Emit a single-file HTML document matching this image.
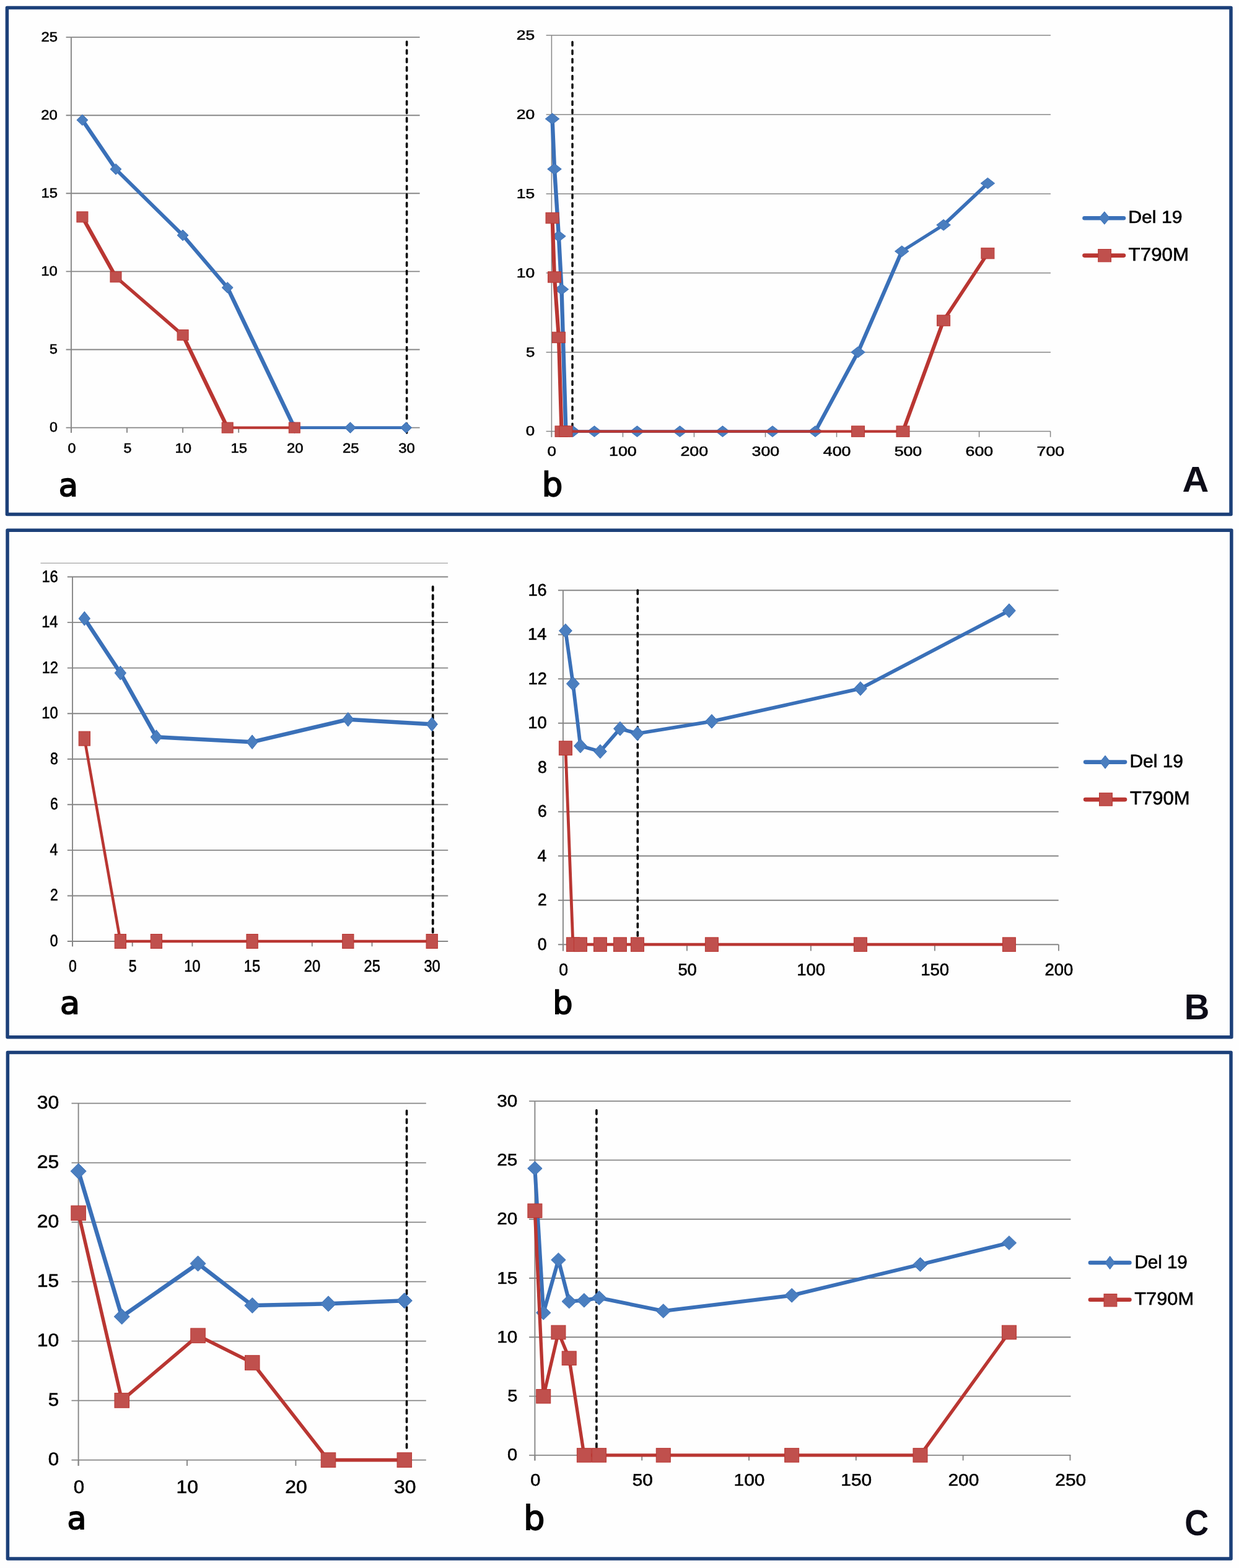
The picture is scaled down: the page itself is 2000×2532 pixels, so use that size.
<!DOCTYPE html><html><head><meta charset="utf-8"><title>Del 19 / T790M</title><style>html,body{margin:0;padding:0;background:#fefefe}svg{display:block}text{font-family:"Liberation Sans",Arial,sans-serif;font-kerning:none;text-rendering:geometricPrecision}</style></head><body>
<svg width="2000" height="2532" viewBox="0 0 2000 2532">
<rect width="2000" height="2532" fill="#fefefe"/>
<line x1="65.5" y1="909.3" x2="723" y2="909.3" stroke="#a6a6a6" stroke-width="1.2"/>
<g id="Aa">
<line x1="106.60" y1="690.60" x2="677.60" y2="690.60" stroke="#868686" stroke-width="1.9"/>
<line x1="106.60" y1="564.50" x2="677.60" y2="564.50" stroke="#868686" stroke-width="1.9"/>
<line x1="106.60" y1="438.40" x2="677.60" y2="438.40" stroke="#868686" stroke-width="1.9"/>
<line x1="106.60" y1="312.30" x2="677.60" y2="312.30" stroke="#868686" stroke-width="1.9"/>
<line x1="106.60" y1="186.20" x2="677.60" y2="186.20" stroke="#868686" stroke-width="1.9"/>
<line x1="106.60" y1="60.10" x2="677.60" y2="60.10" stroke="#868686" stroke-width="1.9"/>
<line x1="114.90" y1="60.10" x2="114.90" y2="698.80" stroke="#868686" stroke-width="1.9"/>
<line x1="114.90" y1="690.60" x2="114.90" y2="698.80" stroke="#868686" stroke-width="1.9"/>
<line x1="205.00" y1="690.60" x2="205.00" y2="698.80" stroke="#868686" stroke-width="1.9"/>
<line x1="295.10" y1="690.60" x2="295.10" y2="698.80" stroke="#868686" stroke-width="1.9"/>
<line x1="385.20" y1="690.60" x2="385.20" y2="698.80" stroke="#868686" stroke-width="1.9"/>
<line x1="475.30" y1="690.60" x2="475.30" y2="698.80" stroke="#868686" stroke-width="1.9"/>
<line x1="565.40" y1="690.60" x2="565.40" y2="698.80" stroke="#868686" stroke-width="1.9"/>
<line x1="655.50" y1="690.60" x2="655.50" y2="698.80" stroke="#868686" stroke-width="1.9"/>
<line x1="656.60" y1="67.30" x2="656.60" y2="699.00" stroke="#000" stroke-width="3.6" stroke-linecap="round" stroke-dasharray="5.8 7.9"/>
<g transform="scale(1.5,1)"><polyline points="88.613,193.77 124.653,273.21 196.733,379.89 244.787,464.38 316.867,690.60 376.933,690.60 437.000,690.60" fill="none" stroke="#3A70B8" stroke-width="4.6" stroke-linejoin="round"/></g>
<path d="M132.92,185.02L141.92,193.77L132.92,202.52L123.92,193.77Z" fill="#4A7EBF" stroke="#3A70B8" stroke-width="1.0"/>
<path d="M186.98,264.46L195.98,273.21L186.98,281.96L177.98,273.21Z" fill="#4A7EBF" stroke="#3A70B8" stroke-width="1.0"/>
<path d="M295.10,371.14L304.10,379.89L295.10,388.64L286.10,379.89Z" fill="#4A7EBF" stroke="#3A70B8" stroke-width="1.0"/>
<path d="M367.18,455.63L376.18,464.38L367.18,473.13L358.18,464.38Z" fill="#4A7EBF" stroke="#3A70B8" stroke-width="1.0"/>
<path d="M475.30,681.85L484.30,690.60L475.30,699.35L466.30,690.60Z" fill="#4A7EBF" stroke="#3A70B8" stroke-width="1.0"/>
<path d="M565.40,681.85L574.40,690.60L565.40,699.35L556.40,690.60Z" fill="#4A7EBF" stroke="#3A70B8" stroke-width="1.0"/>
<path d="M655.50,681.85L664.50,690.60L655.50,699.35L646.50,690.60Z" fill="#4A7EBF" stroke="#3A70B8" stroke-width="1.0"/>
<g transform="scale(1.5,1)"><polyline points="88.613,350.38 124.653,447.23 196.733,541.05 244.787,690.60 316.867,690.60" fill="none" stroke="#B93632" stroke-width="4.4" stroke-linejoin="round"/></g>
<rect x="123.92" y="341.88" width="18.00" height="17.00" fill="#C0504D" stroke="#B93632" stroke-width="1.0"/>
<rect x="177.98" y="438.73" width="18.00" height="17.00" fill="#C0504D" stroke="#B93632" stroke-width="1.0"/>
<rect x="286.10" y="532.55" width="18.00" height="17.00" fill="#C0504D" stroke="#B93632" stroke-width="1.0"/>
<rect x="358.18" y="682.10" width="18.00" height="17.00" fill="#C0504D" stroke="#B93632" stroke-width="1.0"/>
<rect x="466.30" y="682.10" width="18.00" height="17.00" fill="#C0504D" stroke="#B93632" stroke-width="1.0"/>
<text transform="translate(79.93,697.12) scale(0.23145,0.21853)" font-size="100" font-weight="normal" stroke="#000" stroke-width="2.67">0</text>
<text transform="translate(80.01,571.02) scale(0.23135,0.21853)" font-size="100" font-weight="normal" stroke="#000" stroke-width="2.67">5</text>
<text transform="translate(66.36,444.92) scale(0.23798,0.21853)" font-size="100" font-weight="normal" stroke="#000" stroke-width="2.63">10</text>
<text transform="translate(66.43,318.82) scale(0.23796,0.21853)" font-size="100" font-weight="normal" stroke="#000" stroke-width="2.63">15</text>
<text transform="translate(66.34,192.72) scale(0.23813,0.21853)" font-size="100" font-weight="normal" stroke="#000" stroke-width="2.63">20</text>
<text transform="translate(66.41,66.62) scale(0.23812,0.21853)" font-size="100" font-weight="normal" stroke="#000" stroke-width="2.63">25</text>
<text transform="translate(109.46,730.92) scale(0.23145,0.21853)" font-size="100" font-weight="normal" stroke="#000" stroke-width="2.67">0</text>
<text transform="translate(199.59,730.92) scale(0.23135,0.21853)" font-size="100" font-weight="normal" stroke="#000" stroke-width="2.67">5</text>
<text transform="translate(282.42,730.92) scale(0.23798,0.21853)" font-size="100" font-weight="normal" stroke="#000" stroke-width="2.63">10</text>
<text transform="translate(372.56,730.92) scale(0.23796,0.21853)" font-size="100" font-weight="normal" stroke="#000" stroke-width="2.63">15</text>
<text transform="translate(462.92,730.92) scale(0.23813,0.21853)" font-size="100" font-weight="normal" stroke="#000" stroke-width="2.63">20</text>
<text transform="translate(553.06,730.92) scale(0.23812,0.21853)" font-size="100" font-weight="normal" stroke="#000" stroke-width="2.63">25</text>
<text transform="translate(643.26,730.92) scale(0.23820,0.21853)" font-size="100" font-weight="normal" stroke="#000" stroke-width="2.63">30</text>
</g>
<g id="Ab">
<line x1="881.60" y1="696.60" x2="1695.90" y2="696.60" stroke="#868686" stroke-width="1.5"/>
<line x1="881.60" y1="568.70" x2="1695.90" y2="568.70" stroke="#868686" stroke-width="1.5"/>
<line x1="881.60" y1="440.80" x2="1695.90" y2="440.80" stroke="#868686" stroke-width="1.5"/>
<line x1="881.60" y1="312.90" x2="1695.90" y2="312.90" stroke="#868686" stroke-width="1.5"/>
<line x1="881.60" y1="185.00" x2="1695.90" y2="185.00" stroke="#868686" stroke-width="1.5"/>
<line x1="881.60" y1="57.10" x2="1695.90" y2="57.10" stroke="#868686" stroke-width="1.5"/>
<line x1="890.40" y1="57.10" x2="890.40" y2="705.80" stroke="#868686" stroke-width="1.5"/>
<line x1="890.40" y1="696.60" x2="890.40" y2="705.80" stroke="#868686" stroke-width="1.5"/>
<line x1="1005.43" y1="696.60" x2="1005.43" y2="705.80" stroke="#868686" stroke-width="1.5"/>
<line x1="1120.46" y1="696.60" x2="1120.46" y2="705.80" stroke="#868686" stroke-width="1.5"/>
<line x1="1235.49" y1="696.60" x2="1235.49" y2="705.80" stroke="#868686" stroke-width="1.5"/>
<line x1="1350.52" y1="696.60" x2="1350.52" y2="705.80" stroke="#868686" stroke-width="1.5"/>
<line x1="1465.55" y1="696.60" x2="1465.55" y2="705.80" stroke="#868686" stroke-width="1.5"/>
<line x1="1580.58" y1="696.60" x2="1580.58" y2="705.80" stroke="#868686" stroke-width="1.5"/>
<line x1="1695.61" y1="696.60" x2="1695.61" y2="705.80" stroke="#868686" stroke-width="1.5"/>
<line x1="924.00" y1="67.70" x2="924.00" y2="697.00" stroke="#000" stroke-width="3.4" stroke-linecap="round" stroke-dasharray="5.8 7.9"/>
<g transform="scale(1.4,1)"><polyline points="636.822,191.91 639.287,273.00 644.216,381.45 647.503,467.15 652.433,696.60 656.541,696.60 660.649,696.60 685.299,696.60 734.597,696.60 783.896,696.60 833.194,696.60 890.709,696.60 940.008,696.60 989.306,568.70 1039.837,405.76 1087.904,363.29 1138.845,296.02" fill="none" stroke="#3A70B8" stroke-width="4.6" stroke-linejoin="round"/></g>
<path d="M891.55,183.06L902.80,191.91L891.55,200.76L880.30,191.91Z" fill="#4A7EBF" stroke="#3A70B8" stroke-width="1.0"/>
<path d="M895.00,264.15L906.25,273.00L895.00,281.85L883.75,273.00Z" fill="#4A7EBF" stroke="#3A70B8" stroke-width="1.0"/>
<path d="M901.90,372.60L913.15,381.45L901.90,390.30L890.65,381.45Z" fill="#4A7EBF" stroke="#3A70B8" stroke-width="1.0"/>
<path d="M906.50,458.30L917.75,467.15L906.50,476.00L895.25,467.15Z" fill="#4A7EBF" stroke="#3A70B8" stroke-width="1.0"/>
<path d="M913.41,687.75L924.66,696.60L913.41,705.45L902.16,696.60Z" fill="#4A7EBF" stroke="#3A70B8" stroke-width="1.0"/>
<path d="M919.16,687.75L930.41,696.60L919.16,705.45L907.91,696.60Z" fill="#4A7EBF" stroke="#3A70B8" stroke-width="1.0"/>
<path d="M924.91,687.75L936.16,696.60L924.91,705.45L913.66,696.60Z" fill="#4A7EBF" stroke="#3A70B8" stroke-width="1.0"/>
<path d="M959.42,687.75L970.67,696.60L959.42,705.45L948.17,696.60Z" fill="#4A7EBF" stroke="#3A70B8" stroke-width="1.0"/>
<path d="M1028.44,687.75L1039.69,696.60L1028.44,705.45L1017.19,696.60Z" fill="#4A7EBF" stroke="#3A70B8" stroke-width="1.0"/>
<path d="M1097.45,687.75L1108.70,696.60L1097.45,705.45L1086.20,696.60Z" fill="#4A7EBF" stroke="#3A70B8" stroke-width="1.0"/>
<path d="M1166.47,687.75L1177.72,696.60L1166.47,705.45L1155.22,696.60Z" fill="#4A7EBF" stroke="#3A70B8" stroke-width="1.0"/>
<path d="M1246.99,687.75L1258.24,696.60L1246.99,705.45L1235.74,696.60Z" fill="#4A7EBF" stroke="#3A70B8" stroke-width="1.0"/>
<path d="M1316.01,687.75L1327.26,696.60L1316.01,705.45L1304.76,696.60Z" fill="#4A7EBF" stroke="#3A70B8" stroke-width="1.0"/>
<path d="M1385.03,559.85L1396.28,568.70L1385.03,577.55L1373.78,568.70Z" fill="#4A7EBF" stroke="#3A70B8" stroke-width="1.0"/>
<path d="M1455.77,396.91L1467.02,405.76L1455.77,414.61L1444.52,405.76Z" fill="#4A7EBF" stroke="#3A70B8" stroke-width="1.0"/>
<path d="M1523.07,354.44L1534.32,363.29L1523.07,372.14L1511.82,363.29Z" fill="#4A7EBF" stroke="#3A70B8" stroke-width="1.0"/>
<path d="M1594.38,287.17L1605.63,296.02L1594.38,304.87L1583.13,296.02Z" fill="#4A7EBF" stroke="#3A70B8" stroke-width="1.0"/>
<g transform="scale(1.4,1)"><polyline points="636.822,352.04 639.287,447.45 644.216,544.91 647.503,696.60 652.433,696.60 989.306,696.60 1041.070,696.60 1087.904,517.54 1138.845,409.08" fill="none" stroke="#B93632" stroke-width="4.4" stroke-linejoin="round"/></g>
<rect x="881.05" y="343.34" width="21.00" height="17.40" fill="#C0504D" stroke="#B93632" stroke-width="1.0"/>
<rect x="884.50" y="438.75" width="21.00" height="17.40" fill="#C0504D" stroke="#B93632" stroke-width="1.0"/>
<rect x="891.40" y="536.21" width="21.00" height="17.40" fill="#C0504D" stroke="#B93632" stroke-width="1.0"/>
<rect x="896.00" y="687.90" width="21.00" height="17.40" fill="#C0504D" stroke="#B93632" stroke-width="1.0"/>
<rect x="902.91" y="687.90" width="21.00" height="17.40" fill="#C0504D" stroke="#B93632" stroke-width="1.0"/>
<rect x="1374.53" y="687.90" width="21.00" height="17.40" fill="#C0504D" stroke="#B93632" stroke-width="1.0"/>
<rect x="1447.00" y="687.90" width="21.00" height="17.40" fill="#C0504D" stroke="#B93632" stroke-width="1.0"/>
<rect x="1512.57" y="508.84" width="21.00" height="17.40" fill="#C0504D" stroke="#B93632" stroke-width="1.0"/>
<rect x="1583.88" y="400.38" width="21.00" height="17.40" fill="#C0504D" stroke="#B93632" stroke-width="1.0"/>
<text transform="translate(848.84,703.41) scale(0.25845,0.21553)" font-size="100" font-weight="normal" stroke="#000" stroke-width="2.53">0</text>
<text transform="translate(848.92,575.51) scale(0.25835,0.21553)" font-size="100" font-weight="normal" stroke="#000" stroke-width="2.53">5</text>
<text transform="translate(833.76,447.61) scale(0.26498,0.21553)" font-size="100" font-weight="normal" stroke="#000" stroke-width="2.50">10</text>
<text transform="translate(833.84,319.71) scale(0.26496,0.21553)" font-size="100" font-weight="normal" stroke="#000" stroke-width="2.50">15</text>
<text transform="translate(833.74,191.81) scale(0.26513,0.21553)" font-size="100" font-weight="normal" stroke="#000" stroke-width="2.50">20</text>
<text transform="translate(833.82,63.91) scale(0.26512,0.21553)" font-size="100" font-weight="normal" stroke="#000" stroke-width="2.50">25</text>
<text transform="translate(883.61,735.61) scale(0.25845,0.21553)" font-size="100" font-weight="normal" stroke="#000" stroke-width="2.53">0</text>
<text transform="translate(983.05,735.61) scale(0.26714,0.21553)" font-size="100" font-weight="normal" stroke="#000" stroke-width="2.49">100</text>
<text transform="translate(1098.42,735.61) scale(0.26720,0.21553)" font-size="100" font-weight="normal" stroke="#000" stroke-width="2.49">200</text>
<text transform="translate(1213.61,735.61) scale(0.26723,0.21553)" font-size="100" font-weight="normal" stroke="#000" stroke-width="2.49">300</text>
<text transform="translate(1328.84,735.61) scale(0.26727,0.21553)" font-size="100" font-weight="normal" stroke="#000" stroke-width="2.49">400</text>
<text transform="translate(1443.64,735.61) scale(0.26722,0.21553)" font-size="100" font-weight="normal" stroke="#000" stroke-width="2.49">500</text>
<text transform="translate(1558.53,735.61) scale(0.26720,0.21553)" font-size="100" font-weight="normal" stroke="#000" stroke-width="2.49">600</text>
<text transform="translate(1673.56,735.61) scale(0.26720,0.21553)" font-size="100" font-weight="normal" stroke="#000" stroke-width="2.49">700</text>
</g>
<g id="Ba">
<line x1="108.80" y1="1520.00" x2="723.20" y2="1520.00" stroke="#868686" stroke-width="1.9"/>
<line x1="108.80" y1="1446.44" x2="723.20" y2="1446.44" stroke="#868686" stroke-width="1.9"/>
<line x1="108.80" y1="1372.88" x2="723.20" y2="1372.88" stroke="#868686" stroke-width="1.9"/>
<line x1="108.80" y1="1299.32" x2="723.20" y2="1299.32" stroke="#868686" stroke-width="1.9"/>
<line x1="108.80" y1="1225.76" x2="723.20" y2="1225.76" stroke="#868686" stroke-width="1.9"/>
<line x1="108.80" y1="1152.20" x2="723.20" y2="1152.20" stroke="#868686" stroke-width="1.9"/>
<line x1="108.80" y1="1078.64" x2="723.20" y2="1078.64" stroke="#868686" stroke-width="1.9"/>
<line x1="108.80" y1="1005.08" x2="723.20" y2="1005.08" stroke="#868686" stroke-width="1.9"/>
<line x1="108.80" y1="931.52" x2="723.20" y2="931.52" stroke="#868686" stroke-width="1.9"/>
<line x1="117.00" y1="931.52" x2="117.00" y2="1528.30" stroke="#868686" stroke-width="1.9"/>
<line x1="117.00" y1="1520.00" x2="117.00" y2="1528.30" stroke="#868686" stroke-width="1.9"/>
<line x1="213.70" y1="1520.00" x2="213.70" y2="1528.30" stroke="#868686" stroke-width="1.9"/>
<line x1="310.40" y1="1520.00" x2="310.40" y2="1528.30" stroke="#868686" stroke-width="1.9"/>
<line x1="407.10" y1="1520.00" x2="407.10" y2="1528.30" stroke="#868686" stroke-width="1.9"/>
<line x1="503.80" y1="1520.00" x2="503.80" y2="1528.30" stroke="#868686" stroke-width="1.9"/>
<line x1="600.50" y1="1520.00" x2="600.50" y2="1528.30" stroke="#868686" stroke-width="1.9"/>
<line x1="697.20" y1="1520.00" x2="697.20" y2="1528.30" stroke="#868686" stroke-width="1.9"/>
<line x1="698.70" y1="947.40" x2="698.70" y2="1511.50" stroke="#000" stroke-width="3.8" stroke-linecap="round" stroke-dasharray="6.2 7.6"/>
<polyline points="136.34,998.83 194.36,1086.73 252.38,1190.08 407.10,1198.17 561.82,1161.76 697.20,1169.49" fill="none" stroke="#3A70B8" stroke-width="6.5" stroke-linejoin="round"/>
<path d="M136.34,987.48L145.49,998.83L136.34,1010.18L127.19,998.83Z" fill="#4A7EBF" stroke="#3A70B8" stroke-width="1.0"/>
<path d="M194.36,1075.38L203.51,1086.73L194.36,1098.08L185.21,1086.73Z" fill="#4A7EBF" stroke="#3A70B8" stroke-width="1.0"/>
<path d="M252.38,1178.73L261.53,1190.08L252.38,1201.43L243.23,1190.08Z" fill="#4A7EBF" stroke="#3A70B8" stroke-width="1.0"/>
<path d="M407.10,1186.83L416.25,1198.17L407.10,1209.52L397.95,1198.17Z" fill="#4A7EBF" stroke="#3A70B8" stroke-width="1.0"/>
<path d="M561.82,1150.41L570.97,1161.76L561.82,1173.11L552.67,1161.76Z" fill="#4A7EBF" stroke="#3A70B8" stroke-width="1.0"/>
<path d="M697.20,1158.14L706.35,1169.49L697.20,1180.84L688.05,1169.49Z" fill="#4A7EBF" stroke="#3A70B8" stroke-width="1.0"/>
<polyline points="136.34,1192.66 194.36,1520.00 252.38,1520.00 407.10,1520.00 561.82,1520.00 697.20,1520.00" fill="none" stroke="#B93632" stroke-width="4.5" stroke-linejoin="round"/>
<rect x="127.19" y="1181.16" width="18.30" height="23.00" fill="#C0504D" stroke="#B93632" stroke-width="1.0"/>
<rect x="185.21" y="1508.50" width="18.30" height="23.00" fill="#C0504D" stroke="#B93632" stroke-width="1.0"/>
<rect x="243.23" y="1508.50" width="18.30" height="23.00" fill="#C0504D" stroke="#B93632" stroke-width="1.0"/>
<rect x="397.95" y="1508.50" width="18.30" height="23.00" fill="#C0504D" stroke="#B93632" stroke-width="1.0"/>
<rect x="552.67" y="1508.50" width="18.30" height="23.00" fill="#C0504D" stroke="#B93632" stroke-width="1.0"/>
<rect x="688.05" y="1508.50" width="18.30" height="23.00" fill="#C0504D" stroke="#B93632" stroke-width="1.0"/>
<text transform="translate(80.84,1528.00) scale(0.22945,0.26753)" font-size="100" font-weight="normal" stroke="#000" stroke-width="2.41">0</text>
<text transform="translate(81.12,1454.44) scale(0.22883,0.26753)" font-size="100" font-weight="normal" stroke="#000" stroke-width="2.42">2</text>
<text transform="translate(80.58,1380.88) scale(0.23009,0.26753)" font-size="100" font-weight="normal" stroke="#000" stroke-width="2.41">4</text>
<text transform="translate(80.97,1307.32) scale(0.22900,0.26753)" font-size="100" font-weight="normal" stroke="#000" stroke-width="2.42">6</text>
<text transform="translate(80.95,1233.76) scale(0.22921,0.26753)" font-size="100" font-weight="normal" stroke="#000" stroke-width="2.42">8</text>
<text transform="translate(67.37,1160.20) scale(0.23598,0.26753)" font-size="100" font-weight="normal" stroke="#000" stroke-width="2.38">10</text>
<text transform="translate(67.65,1086.64) scale(0.23591,0.26753)" font-size="100" font-weight="normal" stroke="#000" stroke-width="2.38">12</text>
<text transform="translate(67.14,1013.08) scale(0.23604,0.26753)" font-size="100" font-weight="normal" stroke="#000" stroke-width="2.38">14</text>
<text transform="translate(67.49,939.52) scale(0.23595,0.26753)" font-size="100" font-weight="normal" stroke="#000" stroke-width="2.38">16</text>
<text transform="translate(110.92,1569.20) scale(0.22945,0.26753)" font-size="100" font-weight="normal" stroke="#000" stroke-width="2.41">0</text>
<text transform="translate(207.64,1569.20) scale(0.22935,0.26753)" font-size="100" font-weight="normal" stroke="#000" stroke-width="2.42">5</text>
<text transform="translate(297.14,1569.20) scale(0.23598,0.26753)" font-size="100" font-weight="normal" stroke="#000" stroke-width="2.38">10</text>
<text transform="translate(393.87,1569.20) scale(0.23596,0.26753)" font-size="100" font-weight="normal" stroke="#000" stroke-width="2.38">15</text>
<text transform="translate(490.83,1569.20) scale(0.23613,0.26753)" font-size="100" font-weight="normal" stroke="#000" stroke-width="2.38">20</text>
<text transform="translate(587.57,1569.20) scale(0.23612,0.26753)" font-size="100" font-weight="normal" stroke="#000" stroke-width="2.38">25</text>
<text transform="translate(684.38,1569.20) scale(0.23620,0.26753)" font-size="100" font-weight="normal" stroke="#000" stroke-width="2.38">30</text>
</g>
<g id="Bb">
<line x1="900.90" y1="1525.20" x2="1708.70" y2="1525.20" stroke="#868686" stroke-width="1.9"/>
<line x1="900.90" y1="1453.70" x2="1708.70" y2="1453.70" stroke="#868686" stroke-width="1.9"/>
<line x1="900.90" y1="1382.20" x2="1708.70" y2="1382.20" stroke="#868686" stroke-width="1.9"/>
<line x1="900.90" y1="1310.70" x2="1708.70" y2="1310.70" stroke="#868686" stroke-width="1.9"/>
<line x1="900.90" y1="1239.20" x2="1708.70" y2="1239.20" stroke="#868686" stroke-width="1.9"/>
<line x1="900.90" y1="1167.70" x2="1708.70" y2="1167.70" stroke="#868686" stroke-width="1.9"/>
<line x1="900.90" y1="1096.20" x2="1708.70" y2="1096.20" stroke="#868686" stroke-width="1.9"/>
<line x1="900.90" y1="1024.70" x2="1708.70" y2="1024.70" stroke="#868686" stroke-width="1.9"/>
<line x1="900.90" y1="953.20" x2="1708.70" y2="953.20" stroke="#868686" stroke-width="1.9"/>
<line x1="908.90" y1="953.20" x2="908.90" y2="1535.50" stroke="#868686" stroke-width="1.9"/>
<line x1="908.90" y1="1525.20" x2="908.90" y2="1535.50" stroke="#868686" stroke-width="1.9"/>
<line x1="1108.90" y1="1525.20" x2="1108.90" y2="1535.50" stroke="#868686" stroke-width="1.9"/>
<line x1="1308.90" y1="1525.20" x2="1308.90" y2="1535.50" stroke="#868686" stroke-width="1.9"/>
<line x1="1508.90" y1="1525.20" x2="1508.90" y2="1535.50" stroke="#868686" stroke-width="1.9"/>
<line x1="1708.90" y1="1525.20" x2="1708.90" y2="1535.50" stroke="#868686" stroke-width="1.9"/>
<line x1="1029.30" y1="953.10" x2="1029.30" y2="1516.40" stroke="#000" stroke-width="3.6" stroke-linecap="round" stroke-dasharray="6.2 7.6"/>
<polyline points="912.90,1018.62 924.90,1104.07 936.90,1204.52 968.90,1213.46 1000.90,1176.64 1028.90,1184.50 1148.90,1164.84 1388.90,1111.93 1628.90,986.09" fill="none" stroke="#3A70B8" stroke-width="5.8" stroke-linejoin="round"/>
<path d="M912.90,1007.32L923.30,1018.62L912.90,1029.92L902.50,1018.62Z" fill="#4A7EBF" stroke="#3A70B8" stroke-width="1.0"/>
<path d="M924.90,1092.77L935.30,1104.07L924.90,1115.37L914.50,1104.07Z" fill="#4A7EBF" stroke="#3A70B8" stroke-width="1.0"/>
<path d="M936.90,1193.22L947.30,1204.52L936.90,1215.82L926.50,1204.52Z" fill="#4A7EBF" stroke="#3A70B8" stroke-width="1.0"/>
<path d="M968.90,1202.16L979.30,1213.46L968.90,1224.76L958.50,1213.46Z" fill="#4A7EBF" stroke="#3A70B8" stroke-width="1.0"/>
<path d="M1000.90,1165.34L1011.30,1176.64L1000.90,1187.94L990.50,1176.64Z" fill="#4A7EBF" stroke="#3A70B8" stroke-width="1.0"/>
<path d="M1028.90,1173.20L1039.30,1184.50L1028.90,1195.80L1018.50,1184.50Z" fill="#4A7EBF" stroke="#3A70B8" stroke-width="1.0"/>
<path d="M1148.90,1153.54L1159.30,1164.84L1148.90,1176.14L1138.50,1164.84Z" fill="#4A7EBF" stroke="#3A70B8" stroke-width="1.0"/>
<path d="M1388.90,1100.63L1399.30,1111.93L1388.90,1123.23L1378.50,1111.93Z" fill="#4A7EBF" stroke="#3A70B8" stroke-width="1.0"/>
<path d="M1628.90,974.79L1639.30,986.09L1628.90,997.39L1618.50,986.09Z" fill="#4A7EBF" stroke="#3A70B8" stroke-width="1.0"/>
<polyline points="912.90,1208.10 924.90,1525.20 936.90,1525.20 968.90,1525.20 1000.90,1525.20 1028.90,1525.20 1148.90,1525.20 1388.90,1525.20 1628.90,1525.20" fill="none" stroke="#B93632" stroke-width="4.8" stroke-linejoin="round"/>
<rect x="902.40" y="1196.75" width="21.00" height="22.70" fill="#C0504D" stroke="#B93632" stroke-width="1.0"/>
<rect x="914.40" y="1513.85" width="21.00" height="22.70" fill="#C0504D" stroke="#B93632" stroke-width="1.0"/>
<rect x="926.40" y="1513.85" width="21.00" height="22.70" fill="#C0504D" stroke="#B93632" stroke-width="1.0"/>
<rect x="958.40" y="1513.85" width="21.00" height="22.70" fill="#C0504D" stroke="#B93632" stroke-width="1.0"/>
<rect x="990.40" y="1513.85" width="21.00" height="22.70" fill="#C0504D" stroke="#B93632" stroke-width="1.0"/>
<rect x="1018.40" y="1513.85" width="21.00" height="22.70" fill="#C0504D" stroke="#B93632" stroke-width="1.0"/>
<rect x="1138.40" y="1513.85" width="21.00" height="22.70" fill="#C0504D" stroke="#B93632" stroke-width="1.0"/>
<rect x="1378.40" y="1513.85" width="21.00" height="22.70" fill="#C0504D" stroke="#B93632" stroke-width="1.0"/>
<rect x="1618.40" y="1513.85" width="21.00" height="22.70" fill="#C0504D" stroke="#B93632" stroke-width="1.0"/>
<text transform="translate(867.77,1533.81) scale(0.26545,0.27353)" font-size="100" font-weight="normal" stroke="#000" stroke-width="2.23">0</text>
<text transform="translate(868.10,1462.31) scale(0.26483,0.27353)" font-size="100" font-weight="normal" stroke="#000" stroke-width="2.23">2</text>
<text transform="translate(867.48,1390.81) scale(0.26609,0.27353)" font-size="100" font-weight="normal" stroke="#000" stroke-width="2.22">4</text>
<text transform="translate(867.93,1319.31) scale(0.26500,0.27353)" font-size="100" font-weight="normal" stroke="#000" stroke-width="2.23">6</text>
<text transform="translate(867.90,1247.81) scale(0.26521,0.27353)" font-size="100" font-weight="normal" stroke="#000" stroke-width="2.23">8</text>
<text transform="translate(852.31,1176.31) scale(0.27198,0.27353)" font-size="100" font-weight="normal" stroke="#000" stroke-width="2.20">10</text>
<text transform="translate(852.62,1104.81) scale(0.27191,0.27353)" font-size="100" font-weight="normal" stroke="#000" stroke-width="2.20">12</text>
<text transform="translate(852.04,1033.31) scale(0.27204,0.27353)" font-size="100" font-weight="normal" stroke="#000" stroke-width="2.20">14</text>
<text transform="translate(852.45,961.81) scale(0.27195,0.27353)" font-size="100" font-weight="normal" stroke="#000" stroke-width="2.20">16</text>
<text transform="translate(902.22,1575.01) scale(0.26545,0.27353)" font-size="100" font-weight="normal" stroke="#000" stroke-width="2.23">0</text>
<text transform="translate(1094.45,1575.01) scale(0.27219,0.27353)" font-size="100" font-weight="normal" stroke="#000" stroke-width="2.20">50</text>
<text transform="translate(1286.22,1575.01) scale(0.27414,0.27353)" font-size="100" font-weight="normal" stroke="#000" stroke-width="2.19">100</text>
<text transform="translate(1486.22,1575.01) scale(0.27414,0.27353)" font-size="100" font-weight="normal" stroke="#000" stroke-width="2.19">150</text>
<text transform="translate(1686.57,1575.01) scale(0.27420,0.27353)" font-size="100" font-weight="normal" stroke="#000" stroke-width="2.19">200</text>
</g>
<g id="Ca">
<line x1="115.50" y1="2357.60" x2="687.80" y2="2357.60" stroke="#868686" stroke-width="1.9"/>
<line x1="115.50" y1="2261.60" x2="687.80" y2="2261.60" stroke="#868686" stroke-width="1.9"/>
<line x1="115.50" y1="2165.60" x2="687.80" y2="2165.60" stroke="#868686" stroke-width="1.9"/>
<line x1="115.50" y1="2069.60" x2="687.80" y2="2069.60" stroke="#868686" stroke-width="1.9"/>
<line x1="115.50" y1="1973.60" x2="687.80" y2="1973.60" stroke="#868686" stroke-width="1.9"/>
<line x1="115.50" y1="1877.60" x2="687.80" y2="1877.60" stroke="#868686" stroke-width="1.9"/>
<line x1="115.50" y1="1781.60" x2="687.80" y2="1781.60" stroke="#868686" stroke-width="1.9"/>
<line x1="126.60" y1="1781.60" x2="126.60" y2="2367.00" stroke="#868686" stroke-width="1.9"/>
<line x1="126.60" y1="2357.60" x2="126.60" y2="2367.00" stroke="#868686" stroke-width="1.9"/>
<line x1="302.00" y1="2357.60" x2="302.00" y2="2367.00" stroke="#868686" stroke-width="1.9"/>
<line x1="477.40" y1="2357.60" x2="477.40" y2="2367.00" stroke="#868686" stroke-width="1.9"/>
<line x1="652.80" y1="2357.60" x2="652.80" y2="2367.00" stroke="#868686" stroke-width="1.9"/>
<line x1="656.50" y1="1793.50" x2="656.50" y2="2340.20" stroke="#000" stroke-width="3.6" stroke-linecap="round" stroke-dasharray="6.2 7.6"/>
<polyline points="126.60,1891.23 196.76,2126.05 319.54,2040.42 407.24,2108.00 530.02,2105.31 652.80,2100.32" fill="none" stroke="#3A70B8" stroke-width="6.6" stroke-linejoin="round"/>
<path d="M126.60,1878.73L139.10,1891.23L126.60,1903.73L114.10,1891.23Z" fill="#4A7EBF" stroke="#3A70B8" stroke-width="1.0"/>
<path d="M196.76,2113.55L209.26,2126.05L196.76,2138.55L184.26,2126.05Z" fill="#4A7EBF" stroke="#3A70B8" stroke-width="1.0"/>
<path d="M319.54,2027.92L332.04,2040.42L319.54,2052.92L307.04,2040.42Z" fill="#4A7EBF" stroke="#3A70B8" stroke-width="1.0"/>
<path d="M407.24,2095.50L419.74,2108.00L407.24,2120.50L394.74,2108.00Z" fill="#4A7EBF" stroke="#3A70B8" stroke-width="1.0"/>
<path d="M530.02,2092.81L542.52,2105.31L530.02,2117.81L517.52,2105.31Z" fill="#4A7EBF" stroke="#3A70B8" stroke-width="1.0"/>
<path d="M652.80,2087.82L665.30,2100.32L652.80,2112.82L640.30,2100.32Z" fill="#4A7EBF" stroke="#3A70B8" stroke-width="1.0"/>
<polyline points="126.60,1958.82 196.76,2261.41 319.54,2156.77 407.24,2200.54 530.02,2357.60 652.80,2357.60" fill="none" stroke="#B93632" stroke-width="5.6" stroke-linejoin="round"/>
<rect x="114.85" y="1947.02" width="23.50" height="23.60" fill="#C0504D" stroke="#B93632" stroke-width="1.0"/>
<rect x="185.01" y="2249.61" width="23.50" height="23.60" fill="#C0504D" stroke="#B93632" stroke-width="1.0"/>
<rect x="307.79" y="2144.97" width="23.50" height="23.60" fill="#C0504D" stroke="#B93632" stroke-width="1.0"/>
<rect x="395.49" y="2188.74" width="23.50" height="23.60" fill="#C0504D" stroke="#B93632" stroke-width="1.0"/>
<rect x="518.27" y="2345.80" width="23.50" height="23.60" fill="#C0504D" stroke="#B93632" stroke-width="1.0"/>
<rect x="641.05" y="2345.80" width="23.50" height="23.60" fill="#C0504D" stroke="#B93632" stroke-width="1.0"/>
<text transform="translate(77.74,2366.10) scale(0.31245,0.29353)" font-size="100" font-weight="normal" stroke="#000" stroke-width="1.98">0</text>
<text transform="translate(77.84,2270.10) scale(0.31235,0.29353)" font-size="100" font-weight="normal" stroke="#000" stroke-width="1.98">5</text>
<text transform="translate(59.67,2174.10) scale(0.31898,0.29353)" font-size="100" font-weight="normal" stroke="#000" stroke-width="1.96">10</text>
<text transform="translate(59.76,2078.10) scale(0.31896,0.29353)" font-size="100" font-weight="normal" stroke="#000" stroke-width="1.96">15</text>
<text transform="translate(59.65,1982.10) scale(0.31913,0.29353)" font-size="100" font-weight="normal" stroke="#000" stroke-width="1.96">20</text>
<text transform="translate(59.74,1886.10) scale(0.31912,0.29353)" font-size="100" font-weight="normal" stroke="#000" stroke-width="1.96">25</text>
<text transform="translate(59.64,1790.10) scale(0.31920,0.29353)" font-size="100" font-weight="normal" stroke="#000" stroke-width="1.96">30</text>
<text transform="translate(118.81,2410.90) scale(0.31245,0.29353)" font-size="100" font-weight="normal" stroke="#000" stroke-width="1.98">0</text>
<text transform="translate(284.57,2410.90) scale(0.31898,0.29353)" font-size="100" font-weight="normal" stroke="#000" stroke-width="1.96">10</text>
<text transform="translate(460.37,2410.90) scale(0.31913,0.29353)" font-size="100" font-weight="normal" stroke="#000" stroke-width="1.96">20</text>
<text transform="translate(635.96,2410.90) scale(0.31920,0.29353)" font-size="100" font-weight="normal" stroke="#000" stroke-width="1.96">30</text>
</g>
<g id="Cb">
<line x1="854.10" y1="2349.90" x2="1728.40" y2="2349.90" stroke="#868686" stroke-width="1.9"/>
<line x1="854.10" y1="2254.60" x2="1728.40" y2="2254.60" stroke="#868686" stroke-width="1.9"/>
<line x1="854.10" y1="2159.30" x2="1728.40" y2="2159.30" stroke="#868686" stroke-width="1.9"/>
<line x1="854.10" y1="2064.00" x2="1728.40" y2="2064.00" stroke="#868686" stroke-width="1.9"/>
<line x1="854.10" y1="1968.70" x2="1728.40" y2="1968.70" stroke="#868686" stroke-width="1.9"/>
<line x1="854.10" y1="1873.40" x2="1728.40" y2="1873.40" stroke="#868686" stroke-width="1.9"/>
<line x1="854.10" y1="1778.10" x2="1728.40" y2="1778.10" stroke="#868686" stroke-width="1.9"/>
<line x1="863.40" y1="1778.10" x2="863.40" y2="2358.40" stroke="#868686" stroke-width="1.9"/>
<line x1="863.40" y1="2349.90" x2="863.40" y2="2358.40" stroke="#868686" stroke-width="1.9"/>
<line x1="1036.20" y1="2349.90" x2="1036.20" y2="2358.40" stroke="#868686" stroke-width="1.9"/>
<line x1="1209.00" y1="2349.90" x2="1209.00" y2="2358.40" stroke="#868686" stroke-width="1.9"/>
<line x1="1381.80" y1="2349.90" x2="1381.80" y2="2358.40" stroke="#868686" stroke-width="1.9"/>
<line x1="1554.60" y1="2349.90" x2="1554.60" y2="2358.40" stroke="#868686" stroke-width="1.9"/>
<line x1="1727.40" y1="2349.90" x2="1727.40" y2="2358.40" stroke="#868686" stroke-width="1.9"/>
<line x1="962.90" y1="1792.90" x2="962.90" y2="2340.80" stroke="#000" stroke-width="3.6" stroke-linecap="round" stroke-dasharray="6.2 7.6"/>
<polyline points="863.40,1886.74 877.22,2119.85 901.42,2034.46 918.70,2101.55 942.89,2099.83 967.08,2095.83 1070.76,2116.99 1278.12,2091.83 1485.48,2041.89 1628.90,2007.01" fill="none" stroke="#3A70B8" stroke-width="6.1" stroke-linejoin="round"/>
<path d="M863.40,1875.44L875.10,1886.74L863.40,1898.04L851.70,1886.74Z" fill="#4A7EBF" stroke="#3A70B8" stroke-width="1.0"/>
<path d="M877.22,2108.55L888.92,2119.85L877.22,2131.15L865.52,2119.85Z" fill="#4A7EBF" stroke="#3A70B8" stroke-width="1.0"/>
<path d="M901.42,2023.16L913.12,2034.46L901.42,2045.76L889.72,2034.46Z" fill="#4A7EBF" stroke="#3A70B8" stroke-width="1.0"/>
<path d="M918.70,2090.25L930.40,2101.55L918.70,2112.85L907.00,2101.55Z" fill="#4A7EBF" stroke="#3A70B8" stroke-width="1.0"/>
<path d="M942.89,2088.53L954.59,2099.83L942.89,2111.13L931.19,2099.83Z" fill="#4A7EBF" stroke="#3A70B8" stroke-width="1.0"/>
<path d="M967.08,2084.53L978.78,2095.83L967.08,2107.13L955.38,2095.83Z" fill="#4A7EBF" stroke="#3A70B8" stroke-width="1.0"/>
<path d="M1070.76,2105.69L1082.46,2116.99L1070.76,2128.29L1059.06,2116.99Z" fill="#4A7EBF" stroke="#3A70B8" stroke-width="1.0"/>
<path d="M1278.12,2080.53L1289.82,2091.83L1278.12,2103.13L1266.42,2091.83Z" fill="#4A7EBF" stroke="#3A70B8" stroke-width="1.0"/>
<path d="M1485.48,2030.59L1497.18,2041.89L1485.48,2053.19L1473.78,2041.89Z" fill="#4A7EBF" stroke="#3A70B8" stroke-width="1.0"/>
<path d="M1628.90,1995.71L1640.60,2007.01L1628.90,2018.31L1617.20,2007.01Z" fill="#4A7EBF" stroke="#3A70B8" stroke-width="1.0"/>
<polyline points="863.40,1955.17 877.22,2254.79 901.42,2151.49 918.70,2193.23 942.89,2349.90 967.08,2349.90 1070.76,2349.90 1278.12,2349.90 1485.48,2349.90 1628.90,2151.49" fill="none" stroke="#B93632" stroke-width="5.4" stroke-linejoin="round"/>
<rect x="851.90" y="1943.92" width="23.00" height="22.50" fill="#C0504D" stroke="#B93632" stroke-width="1.0"/>
<rect x="865.72" y="2243.54" width="23.00" height="22.50" fill="#C0504D" stroke="#B93632" stroke-width="1.0"/>
<rect x="889.92" y="2140.24" width="23.00" height="22.50" fill="#C0504D" stroke="#B93632" stroke-width="1.0"/>
<rect x="907.20" y="2181.98" width="23.00" height="22.50" fill="#C0504D" stroke="#B93632" stroke-width="1.0"/>
<rect x="931.39" y="2338.65" width="23.00" height="22.50" fill="#C0504D" stroke="#B93632" stroke-width="1.0"/>
<rect x="955.58" y="2338.65" width="23.00" height="22.50" fill="#C0504D" stroke="#B93632" stroke-width="1.0"/>
<rect x="1059.26" y="2338.65" width="23.00" height="22.50" fill="#C0504D" stroke="#B93632" stroke-width="1.0"/>
<rect x="1266.62" y="2338.65" width="23.00" height="22.50" fill="#C0504D" stroke="#B93632" stroke-width="1.0"/>
<rect x="1473.98" y="2338.65" width="23.00" height="22.50" fill="#C0504D" stroke="#B93632" stroke-width="1.0"/>
<rect x="1617.40" y="2140.24" width="23.00" height="22.50" fill="#C0504D" stroke="#B93632" stroke-width="1.0"/>
<text transform="translate(819.08,2358.44) scale(0.29045,0.27153)" font-size="100" font-weight="normal" stroke="#000" stroke-width="2.14">0</text>
<text transform="translate(819.17,2263.14) scale(0.29035,0.27153)" font-size="100" font-weight="normal" stroke="#000" stroke-width="2.14">5</text>
<text transform="translate(802.23,2167.84) scale(0.29698,0.27153)" font-size="100" font-weight="normal" stroke="#000" stroke-width="2.11">10</text>
<text transform="translate(802.32,2072.54) scale(0.29696,0.27153)" font-size="100" font-weight="normal" stroke="#000" stroke-width="2.11">15</text>
<text transform="translate(802.21,1977.24) scale(0.29713,0.27153)" font-size="100" font-weight="normal" stroke="#000" stroke-width="2.11">20</text>
<text transform="translate(802.30,1881.94) scale(0.29712,0.27153)" font-size="100" font-weight="normal" stroke="#000" stroke-width="2.11">25</text>
<text transform="translate(802.20,1786.64) scale(0.29720,0.27153)" font-size="100" font-weight="normal" stroke="#000" stroke-width="2.11">30</text>
<text transform="translate(856.32,2398.84) scale(0.29045,0.27153)" font-size="100" font-weight="normal" stroke="#000" stroke-width="2.14">0</text>
<text transform="translate(1020.66,2398.84) scale(0.29719,0.27153)" font-size="100" font-weight="normal" stroke="#000" stroke-width="2.11">50</text>
<text transform="translate(1184.49,2398.84) scale(0.29914,0.27153)" font-size="100" font-weight="normal" stroke="#000" stroke-width="2.10">100</text>
<text transform="translate(1357.29,2398.84) scale(0.29914,0.27153)" font-size="100" font-weight="normal" stroke="#000" stroke-width="2.10">150</text>
<text transform="translate(1530.47,2398.84) scale(0.29920,0.27153)" font-size="100" font-weight="normal" stroke="#000" stroke-width="2.10">200</text>
<text transform="translate(1703.27,2398.84) scale(0.29920,0.27153)" font-size="100" font-weight="normal" stroke="#000" stroke-width="2.10">250</text>
</g>
<line x1="1750.50" y1="352.2" x2="1813.90" y2="352.2" stroke="#3A70B8" stroke-width="6.6" stroke-linecap="round"/>
<path d="M1782.80,341.75L1791.40,352.00L1782.80,362.25L1774.20,352.00Z" fill="#4A7EBF" stroke="#3A70B8" stroke-width="1.0"/>
<line x1="1750.50" y1="412.6" x2="1813.90" y2="412.6" stroke="#B93632" stroke-width="6.6" stroke-linecap="round"/>
<rect x="1772.70" y="402.50" width="20.80" height="20.30" fill="#C0504D" stroke="#B93632" stroke-width="1.0"/>
<text transform="translate(1821.33,360.32) scale(0.30131,0.28323)" font-size="100" font-weight="normal" fill="#000" stroke="#000" stroke-width="2.05">Del 19</text>
<text transform="translate(1821.60,421.11) scale(0.31318,0.29943)" font-size="100" font-weight="normal" fill="#000" stroke="#000" stroke-width="1.96">T790M</text>
<line x1="1752.10" y1="1230.6" x2="1816.00" y2="1230.6" stroke="#3A70B8" stroke-width="6.6" stroke-linecap="round"/>
<path d="M1784.00,1220.05L1792.35,1230.60L1784.00,1241.15L1775.65,1230.60Z" fill="#4A7EBF" stroke="#3A70B8" stroke-width="1.0"/>
<line x1="1752.10" y1="1291.1" x2="1816.00" y2="1291.1" stroke="#B93632" stroke-width="6.6" stroke-linecap="round"/>
<rect x="1774.50" y="1280.40" width="20.90" height="20.80" fill="#C0504D" stroke="#B93632" stroke-width="1.0"/>
<text transform="translate(1823.44,1239.21) scale(0.29950,0.29413)" font-size="100" font-weight="normal" fill="#000" stroke="#000" stroke-width="2.02">Del 19</text>
<text transform="translate(1823.90,1299.20) scale(0.31086,0.30367)" font-size="100" font-weight="normal" fill="#000" stroke="#000" stroke-width="1.95">T790M</text>
<line x1="1759.90" y1="2039.0" x2="1823.40" y2="2039.0" stroke="#3A70B8" stroke-width="6.6" stroke-linecap="round"/>
<path d="M1791.70,2028.50L1799.60,2039.00L1791.70,2049.50L1783.80,2039.00Z" fill="#4A7EBF" stroke="#3A70B8" stroke-width="1.0"/>
<line x1="1759.90" y1="2098.8" x2="1823.40" y2="2098.8" stroke="#B93632" stroke-width="6.6" stroke-linecap="round"/>
<rect x="1782.00" y="2089.50" width="20.90" height="20.30" fill="#C0504D" stroke="#B93632" stroke-width="1.0"/>
<text transform="translate(1831.38,2047.61) scale(0.29552,0.29685)" font-size="100" font-weight="normal" fill="#000" stroke="#000" stroke-width="2.03">Del 19</text>
<text transform="translate(1831.31,2107.41) scale(0.30786,0.29237)" font-size="100" font-weight="normal" fill="#000" stroke="#000" stroke-width="2.00">T790M</text>
<text transform="translate(94.74,801.18) scale(0.50875,0.50678)" font-size="100" font-weight="normal" fill="#000" stroke="#000" stroke-width="3.54" style="font-family:'DejaVu Sans',sans-serif">a</text>
<text transform="translate(874.79,801.14) scale(0.52937,0.53364)" font-size="100" font-weight="normal" fill="#000" stroke="#000" stroke-width="3.39" style="font-family:'DejaVu Sans',sans-serif">b</text>
<text transform="translate(1908.62,794.20) scale(0.59323,0.57995)" font-size="100" font-weight="bold" fill="#0d0c18">A</text>
<text transform="translate(97.07,1637.39) scale(0.52174,0.50329)" font-size="100" font-weight="normal" fill="#000" stroke="#000" stroke-width="3.51" style="font-family:'DejaVu Sans',sans-serif">a</text>
<text transform="translate(892.18,1636.88) scale(0.50893,0.51038)" font-size="100" font-weight="normal" fill="#000" stroke="#000" stroke-width="3.53" style="font-family:'DejaVu Sans',sans-serif">b</text>
<text transform="translate(1911.64,1645.90) scale(0.56242,0.58141)" font-size="100" font-weight="bold" fill="#0d0c18">B</text>
<text transform="translate(108.57,2469.19) scale(0.50442,0.49981)" font-size="100" font-weight="normal" fill="#000" stroke="#000" stroke-width="3.58" style="font-family:'DejaVu Sans',sans-serif">a</text>
<text transform="translate(845.32,2469.63) scale(0.53755,0.54140)" font-size="100" font-weight="normal" fill="#000" stroke="#000" stroke-width="3.34" style="font-family:'DejaVu Sans',sans-serif">b</text>
<text transform="translate(1912.29,2479.33) scale(0.53838,0.58333)" font-size="100" font-weight="bold" fill="#0d0c18">C</text>
<rect x="11.4" y="12.55" width="1975.60" height="817.95" fill="none" stroke="#1C4079" stroke-width="5.5" stroke-linejoin="round"/>
<rect x="12.05" y="856.15" width="1975.80" height="818.70" fill="none" stroke="#1C4079" stroke-width="5.5" stroke-linejoin="round"/>
<rect x="12.4" y="1699.55" width="1974.60" height="817.50" fill="none" stroke="#1C4079" stroke-width="5.5" stroke-linejoin="round"/>
</svg></body></html>
